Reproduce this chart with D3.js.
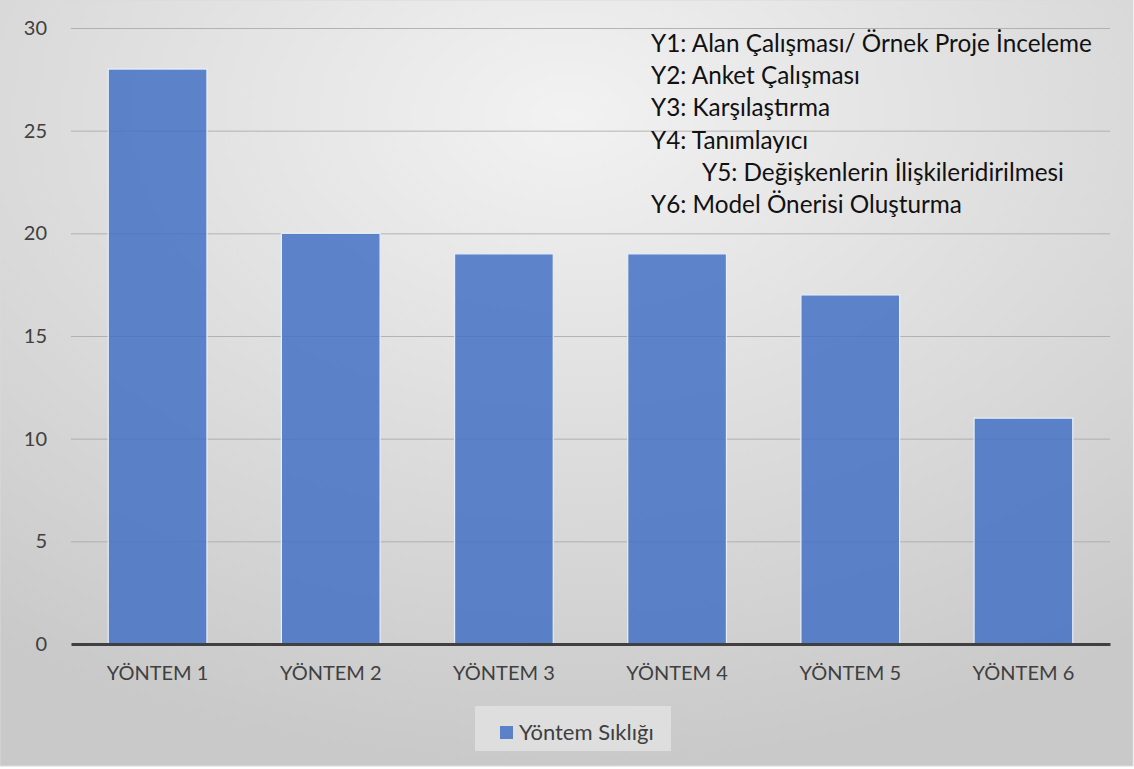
<!DOCTYPE html>
<html>
<head>
  <meta charset="utf-8">
  <script src="https://d3js.org/d3.v7.min.js"></script>
  <style>
    body { margin: 0; background: #fff; }
    text { font-family: Lato, "Open Sans", sans-serif; }
  </style>
</head>
<body>
<div id="chart"></div>
<script>
  const categories = ["YÖNTEM 1", "YÖNTEM 2", "YÖNTEM 3", "YÖNTEM 4", "YÖNTEM 5", "YÖNTEM 6"];
  const values = [28, 20, 19, 19, 17, 11];
  const yTicks = [0, 5, 10, 15, 20, 25, 30];
  const seriesName = "Yöntem Sıklığı";
  const notes = [
    "Y1: Alan Çalışması/ Örnek Proje İnceleme",
    "Y2: Anket Çalışması",
    "Y3: Karşılaştırma",
    "Y4: Tanımlayıcı",
    "Y5: Değişkenlerin İlişkileridirilmesi",
    "Y6: Model Önerisi Oluşturma"
  ];

  const W = 1134, H = 769;
  const margin = { top: 28, right: 24, bottom: 125, left: 71 };
  const width = W - margin.left - margin.right,
    height = H - margin.top - margin.bottom;

  const svg = d3.select("#chart").append("svg")
    .attr("width", W).attr("height", H);

  // background gradient
  const defs = svg.append("defs");
  const bg = defs.append("radialGradient").attr("id", "bg")
    .attr("cx", "50%").attr("cy", "15%").attr("r", "85%");
  bg.append("stop").attr("offset", "0%").attr("stop-color", "#f2f2f2");
  bg.append("stop").attr("offset", "100%").attr("stop-color", "#c9c9c9");

  svg.append("rect").attr("x", 0).attr("y", 0).attr("width", W - 1).attr("height", H - 3)
    .attr("fill", "url(#bg)").attr("stroke", "#d9d9d9");

  const g = svg.append("g").attr("transform", `translate(${margin.left},${margin.top})`);

  const x = d3.scaleBand().domain(categories).range([0, width]).paddingInner(0.43).paddingOuter(0.215);
  const y = d3.scaleLinear().domain([0, 30]).range([height, 0]);

  // gridlines
  g.append("g")
    .call(d3.axisLeft(y).tickValues(yTicks.filter(d => d > 0)).tickSize(-width).tickFormat(""))
    .call(s => s.select(".domain").remove())
    .selectAll("line").attr("stroke", "#a6a6a6").attr("stroke-width", 1).attr("opacity", 0.8);

  // y labels
  g.append("g")
    .call(d3.axisLeft(y).tickValues(yTicks).tickSize(0).tickPadding(24))
    .call(s => s.select(".domain").remove())
    .selectAll("text").attr("font-size", 20).attr("fill", "#404040")
    .style("font-family", "Lato, sans-serif");

  // bars
  g.selectAll("rect.bar").data(values).enter().append("rect")
    .attr("class", "bar")
    .attr("x", (d, i) => x(categories[i]))
    .attr("y", d => y(d))
    .attr("width", x.bandwidth())
    .attr("height", d => height - y(d))
    .attr("fill", "#4472c4").attr("fill-opacity", 0.85)
    .attr("stroke", "#e8eef8").attr("stroke-width", 1.2);

  // x axis
  const xa = g.append("g").attr("transform", `translate(0,${height})`)
    .call(d3.axisBottom(x).tickSize(0).tickPadding(22));
  xa.select(".domain").attr("stroke", "#404040").attr("stroke-width", 3);
  xa.selectAll("text").attr("font-size", 20).attr("fill", "#404040")
    .style("font-family", "Lato, sans-serif");

  // notes
  const nt = svg.append("g");
  notes.forEach((t, i) => {
    nt.append("text")
      .attr("x", i === 4 ? 702 : 651)
      .attr("y", 52 + i * 32.2)
      .attr("font-size", 24.3)
      .attr("fill", "#111")
      .text(t);
  });

  // legend
  const lg = svg.append("g").attr("transform", "translate(475,706)");
  lg.append("rect").attr("width", 196).attr("height", 45).attr("fill", "#e2e2e2").attr("opacity", 0.8);
  lg.append("rect").attr("x", 25).attr("y", 20).attr("width", 13).attr("height", 13)
    .attr("fill", "#4472c4").attr("fill-opacity", 0.85);
  lg.append("text").attr("x", 44).attr("y", 34).attr("font-size", 22).attr("fill", "#404040").text(seriesName);
</script>
</body>
</html>
